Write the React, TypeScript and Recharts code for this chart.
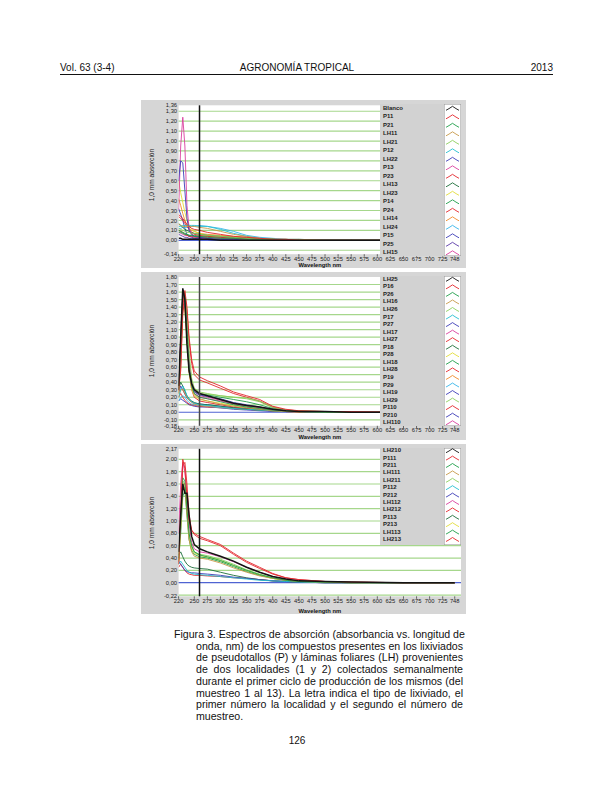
import React from 'react'
import { LineChart, Line, XAxis, YAxis, CartesianGrid, ReferenceLine, Legend } from 'recharts'

// sampled wavelengths (nm) shared by every spectrum
const WAVELENGTHS = [220, 224, 228, 232, 236, 240, 245, 250, 260, 275, 300, 325, 350, 375, 400, 425, 450, 500, 550, 650, 748]
const X_TICKS = [220, 250, 275, 300, 325, 350, 375, 400, 425, 450, 475, 500, 525, 550, 575, 600, 625, 650, 675, 700, 725, 748]
const MARKER_NM = 260

// panel 1: Blanco + muestreos 1..5
const P1_NAMES = ['Blanco', 'P11', 'P21', 'LH11', 'LH21', 'P12', 'LH22', 'P13', 'P23', 'LH13', 'LH23', 'P14', 'P24', 'LH14', 'LH24', 'P15', 'P25', 'LH15']
const P1_VALUES = [
  [0.02, 0.02, 0.01, 0.01, 0.01, 0.01, 0.01, 0.01, 0.01, 0.01, 0, 0, 0, 0, 0, 0, 0, 0, 0, 0, 0],
  [0.26, 0.24, 0.22, 0.19, 0.16, 0.14, 0.12, 0.11, 0.1, 0.08, 0.06, 0.04, 0.03, 0.02, 0.01, 0.01, 0, 0, 0, 0, 0],
  [0.1, 0.09, 0.08, 0.07, 0.06, 0.05, 0.05, 0.04, 0.04, 0.03, 0.02, 0.02, 0.01, 0.01, 0.01, 0, 0, 0, 0, 0, 0],
  [0.16, 0.15, 0.14, 0.14, 0.14, 0.14, 0.14, 0.14, 0.13, 0.12, 0.09, 0.06, 0.04, 0.02, 0.01, 0.01, 0.01, 0, 0, 0, 0],
  [0.12, 0.11, 0.1, 0.09, 0.08, 0.08, 0.07, 0.07, 0.06, 0.05, 0.04, 0.03, 0.02, 0.01, 0.01, 0, 0, 0, 0, 0, 0],
  [0.14, 0.14, 0.15, 0.15, 0.15, 0.15, 0.15, 0.15, 0.14, 0.14, 0.11, 0.07, 0.04, 0.02, 0.01, 0.01, 0, 0, 0, 0, 0],
  [0.6, 0.8, 0.78, 0.5, 0.22, 0.1, 0.06, 0.04, 0.03, 0.02, 0.01, 0.01, 0, 0, 0, 0, 0, 0, 0, 0, 0],
  [0.3, 0.95, 1.24, 0.95, 0.35, 0.12, 0.06, 0.04, 0.03, 0.02, 0.02, 0.01, 0.01, 0, 0, 0, 0, 0, 0, 0, 0],
  [0.24, 0.22, 0.2, 0.17, 0.14, 0.11, 0.08, 0.06, 0.05, 0.04, 0.03, 0.02, 0.01, 0.01, 0, 0, 0, 0, 0, 0, 0],
  [0.17, 0.15, 0.13, 0.11, 0.1, 0.09, 0.08, 0.07, 0.06, 0.05, 0.04, 0.03, 0.02, 0.01, 0.01, 0, 0, 0, 0, 0, 0],
  [0.6, 0.48, 0.38, 0.28, 0.2, 0.15, 0.11, 0.09, 0.07, 0.05, 0.04, 0.03, 0.02, 0.01, 0.01, 0, 0, 0, 0, 0, 0],
  [0.08, 0.08, 0.07, 0.06, 0.06, 0.05, 0.05, 0.05, 0.04, 0.04, 0.03, 0.02, 0.02, 0.01, 0.01, 0, 0, 0, 0, 0, 0],
  [0.1, 0.09, 0.08, 0.06, 0.05, 0.04, 0.04, 0.03, 0.03, 0.02, 0.02, 0.01, 0.01, 0, 0, 0, 0, 0, 0, 0, 0],
  [0.42, 0.35, 0.27, 0.2, 0.15, 0.12, 0.1, 0.09, 0.07, 0.06, 0.05, 0.04, 0.03, 0.02, 0.01, 0.01, 0, 0, 0, 0, 0],
  [0.12, 0.12, 0.13, 0.13, 0.13, 0.13, 0.14, 0.14, 0.15, 0.14, 0.12, 0.09, 0.05, 0.03, 0.02, 0.01, 0.01, 0, 0, 0, 0],
  [0.32, 0.26, 0.2, 0.12, 0.06, 0.04, 0.03, 0.02, 0.02, 0.01, 0.01, 0.01, 0, 0, 0, 0, 0, 0, 0, 0, 0],
  [0.06, 0.05, 0.04, 0.03, 0.03, 0.02, 0.02, 0.02, 0.01, 0.01, 0.01, 0, 0, 0, 0, 0, 0, 0, 0, 0, 0],
  [0.08, 0.07, 0.06, 0.05, 0.05, 0.04, 0.04, 0.04, 0.03, 0.03, 0.02, 0.02, 0.01, 0.01, 0, 0, 0, 0, 0, 0, 0],
]
const P1_Y_TICKS = [1.36, 1.3, 1.2, 1.1, 1.0, 0.9, 0.8, 0.7, 0.6, 0.5, 0.4, 0.3, 0.2, 0.1, 0, -0.14]
const P1_GRID = [1.3, 1.2, 1.1, 1.0, 0.9, 0.8, 0.7, 0.6, 0.5, 0.4, 0.3, 0.2, 0.1, -0.1]

// panel 2
const P2_NAMES = ['LH25', 'P16', 'P26', 'LH16', 'LH26', 'P17', 'P27', 'LH17', 'LH27', 'P18', 'P28', 'LH18', 'LH28', 'P19', 'P29', 'LH19', 'LH29', 'P110', 'P210', 'LH110']
const P2_VALUES = [
  [0.35, 1.0, 1.65, 1.5, 0.9, 0.55, 0.38, 0.3, 0.25, 0.22, 0.17, 0.12, 0.09, 0.07, 0.04, 0.02, 0.01, 0.01, 0, 0, 0],
  [0.3, 0.6, 1.4, 1.62, 1.4, 1.0, 0.7, 0.55, 0.47, 0.42, 0.35, 0.27, 0.22, 0.17, 0.08, 0.04, 0.02, 0.01, 0.01, 0, 0],
  [0.3, 0.8, 1.6, 1.55, 1.1, 0.6, 0.35, 0.25, 0.2, 0.18, 0.14, 0.1, 0.07, 0.05, 0.03, 0.02, 0.01, 0, 0, 0, 0],
  [0.25, 0.7, 1.5, 1.45, 1.0, 0.55, 0.33, 0.24, 0.18, 0.15, 0.11, 0.08, 0.06, 0.04, 0.02, 0.01, 0.01, 0, 0, 0, 0],
  [0.3, 0.9, 1.55, 1.6, 1.3, 0.8, 0.45, 0.32, 0.27, 0.25, 0.22, 0.2, 0.19, 0.15, 0.07, 0.03, 0.02, 0.01, 0, 0, 0],
  [0.2, 0.3, 0.35, 0.3, 0.22, 0.17, 0.14, 0.12, 0.1, 0.09, 0.07, 0.05, 0.04, 0.03, 0.02, 0.01, 0.01, 0, 0, 0, 0],
  [0.3, 0.9, 1.5, 1.45, 1.1, 0.6, 0.35, 0.27, 0.23, 0.21, 0.18, 0.13, 0.1, 0.07, 0.04, 0.02, 0.01, 0, 0, 0, 0],
  [0.3, 1.0, 1.6, 1.5, 1.2, 0.7, 0.4, 0.28, 0.22, 0.2, 0.16, 0.12, 0.09, 0.06, 0.03, 0.02, 0.01, 0, 0, 0, 0],
  [0.3, 0.55, 1.3, 1.55, 1.35, 0.95, 0.65, 0.5, 0.43, 0.39, 0.32, 0.25, 0.2, 0.15, 0.07, 0.03, 0.02, 0.01, 0, 0, 0],
  [0.3, 0.4, 0.35, 0.28, 0.22, 0.18, 0.15, 0.13, 0.11, 0.1, 0.08, 0.06, 0.04, 0.03, 0.02, 0.01, 0.01, 0, 0, 0, 0],
  [0.25, 0.8, 1.4, 1.35, 1.0, 0.55, 0.3, 0.22, 0.17, 0.15, 0.12, 0.09, 0.07, 0.05, 0.03, 0.02, 0.01, 0, 0, 0, 0],
  [0.3, 0.9, 1.55, 1.5, 1.15, 0.65, 0.38, 0.28, 0.24, 0.23, 0.2, 0.17, 0.14, 0.1, 0.05, 0.02, 0.01, 0, 0, 0, 0],
  [0.28, 0.75, 1.45, 1.4, 1.0, 0.55, 0.3, 0.2, 0.15, 0.13, 0.1, 0.07, 0.05, 0.04, 0.02, 0.01, 0.01, 0, 0, 0, 0],
  [0.2, 0.3, 0.3, 0.25, 0.2, 0.16, 0.13, 0.11, 0.09, 0.08, 0.07, 0.05, 0.04, 0.03, 0.02, 0.01, 0, 0, 0, 0, 0],
  [0.15, 0.2, 0.22, 0.2, 0.16, 0.13, 0.11, 0.1, 0.09, 0.08, 0.06, 0.05, 0.04, 0.03, 0.02, 0.01, 0, 0, 0, 0, 0],
  [0.25, 0.35, 0.3, 0.24, 0.19, 0.16, 0.14, 0.12, 0.11, 0.1, 0.08, 0.06, 0.05, 0.03, 0.02, 0.01, 0.01, 0, 0, 0, 0],
  [0.3, 0.85, 1.5, 1.5, 1.2, 0.7, 0.4, 0.3, 0.25, 0.24, 0.22, 0.2, 0.18, 0.14, 0.06, 0.03, 0.01, 0, 0, 0, 0],
  [0.2, 0.25, 0.2, 0.16, 0.13, 0.11, 0.1, 0.09, 0.08, 0.07, 0.06, 0.05, 0.04, 0.03, 0.02, 0.01, 0, 0, 0, 0, 0],
  [0.15, 0.18, 0.16, 0.14, 0.12, 0.1, 0.09, 0.08, 0.07, 0.07, 0.06, 0.04, 0.03, 0.02, 0.01, 0.01, 0, 0, 0, 0, 0],
  [0.3, 0.95, 1.55, 1.45, 1.05, 0.6, 0.35, 0.25, 0.2, 0.18, 0.15, 0.11, 0.08, 0.06, 0.03, 0.02, 0.01, 0, 0, 0, 0],
]
const P2_Y_TICKS = [1.8, 1.7, 1.6, 1.5, 1.4, 1.3, 1.2, 1.1, 1.0, 0.9, 0.8, 0.7, 0.6, 0.5, 0.4, 0.3, 0.2, 0.1, 0, -0.1, -0.18]
const P2_GRID = [1.7, 1.6, 1.5, 1.4, 1.3, 1.2, 1.1, 1.0, 0.9, 0.8, 0.7, 0.6, 0.5, 0.4, 0.3, 0.2, 0.1, -0.1]

// panel 3
const P3_NAMES = ['LH210', 'P111', 'P211', 'LH111', 'LH211', 'P112', 'P212', 'LH112', 'LH212', 'P113', 'P213', 'LH113', 'LH213']
const P3_VALUES = [
  [0.5, 1.1, 1.6, 1.45, 1.45, 1.1, 0.75, 0.62, 0.55, 0.5, 0.43, 0.35, 0.25, 0.17, 0.1, 0.06, 0.03, 0.02, 0.01, 0, 0],
  [0.3, 1.2, 2.0, 1.85, 1.4, 1.0, 0.85, 0.8, 0.75, 0.7, 0.62, 0.48, 0.35, 0.25, 0.15, 0.08, 0.05, 0.02, 0.01, 0, 0],
  [0.4, 1.0, 1.7, 1.65, 1.2, 0.8, 0.6, 0.5, 0.45, 0.42, 0.36, 0.28, 0.2, 0.13, 0.08, 0.04, 0.02, 0.01, 0, 0, 0],
  [0.35, 0.9, 1.6, 1.6, 1.1, 0.7, 0.5, 0.43, 0.4, 0.38, 0.32, 0.24, 0.17, 0.11, 0.07, 0.04, 0.02, 0.01, 0, 0, 0],
  [0.35, 0.95, 1.65, 1.6, 1.2, 0.8, 0.58, 0.5, 0.46, 0.44, 0.38, 0.3, 0.21, 0.14, 0.08, 0.04, 0.02, 0.01, 0, 0, 0],
  [0.3, 0.35, 0.3, 0.25, 0.2, 0.17, 0.15, 0.14, 0.13, 0.12, 0.1, 0.08, 0.06, 0.04, 0.03, 0.02, 0.01, 0, 0, 0, 0],
  [0.35, 0.3, 0.25, 0.2, 0.18, 0.17, 0.16, 0.16, 0.15, 0.14, 0.12, 0.09, 0.07, 0.05, 0.03, 0.02, 0.01, 0, 0, 0, 0],
  [0.8, 1.6, 1.95, 1.8, 1.4, 0.95, 0.65, 0.55, 0.5, 0.48, 0.42, 0.34, 0.25, 0.17, 0.1, 0.06, 0.03, 0.01, 0, 0, 0],
  [0.3, 1.0, 1.9, 1.95, 1.6, 1.1, 0.85, 0.78, 0.72, 0.68, 0.6, 0.46, 0.33, 0.23, 0.14, 0.08, 0.05, 0.02, 0.01, 0, 0],
  [0.45, 0.5, 0.42, 0.35, 0.3, 0.27, 0.25, 0.24, 0.23, 0.22, 0.17, 0.12, 0.08, 0.05, 0.03, 0.02, 0.01, 0, 0, 0, 0],
  [0.3, 0.9, 1.5, 1.55, 1.15, 0.75, 0.55, 0.48, 0.44, 0.42, 0.36, 0.28, 0.2, 0.13, 0.07, 0.04, 0.02, 0.01, 0, 0, 0],
  [0.35, 0.8, 1.4, 1.5, 1.1, 0.7, 0.52, 0.46, 0.42, 0.4, 0.34, 0.26, 0.18, 0.12, 0.07, 0.04, 0.02, 0.01, 0, 0, 0],
  [0.25, 0.3, 0.25, 0.2, 0.16, 0.14, 0.13, 0.12, 0.12, 0.11, 0.1, 0.08, 0.07, 0.05, 0.03, 0.02, 0.01, 0, 0, 0, 0],
]
const P3_Y_TICKS = [2.17, 2.0, 1.8, 1.6, 1.4, 1.2, 1.0, 0.8, 0.6, 0.4, 0.2, 0, -0.22]
const P3_GRID = [2.0, 1.8, 1.6, 1.4, 1.2, 1.0, 0.8, 0.6, 0.4, 0.2, -0.2]

const CAPTION_FIRST = 'Figura 3. Espectros de absorción (absorbancia vs. longitud de'
const CAPTION_LINES = [
  'onda, nm) de los compuestos presentes en los lixiviados',
  'de pseudotallos (P) y láminas foliares (LH) provenientes',
  'de dos localidades (1 y 2) colectados semanalmente',
  'durante el primer ciclo de producción de los mismos (del',
  'muestreo 1 al 13). La letra indica el tipo de lixiviado, el',
  'primer número la localidad y el segundo el número de',
  'muestreo.',
]

// colours (the software cycles the same palette)
const BLACK = '#141414'
const RED = '#e3262d'
const GREEN = '#1f9e4a'
const TAN = '#c79a4a'
const LGREEN = '#8ccf5e'
const CYAN = '#25bfd0'
const BLUE = '#3d3db8'
const MAGENTA = '#d93f9e'
const DGREEN = '#1d6e3a'
const YELLOW = '#e2dc3a'
const ORANGE = '#ef8a2a'
const SKY = '#35b6ea'
const PURPLE = '#5a3aa8'
const P1_COLORS = [BLACK, RED, GREEN, TAN, LGREEN, CYAN, BLUE, MAGENTA, RED, DGREEN, YELLOW, GREEN, RED, ORANGE, SKY, BLUE, PURPLE, MAGENTA]
const P2_COLORS = [BLACK, RED, GREEN, TAN, LGREEN, CYAN, BLUE, MAGENTA, RED, DGREEN, YELLOW, GREEN, RED, ORANGE, SKY, BLUE, LGREEN, RED, BLUE, MAGENTA]
const P3_COLORS = P2_COLORS.slice(0, 13)

const FONT = '"Liberation Sans", Arial, sans-serif'
const PANEL_BG = '#d6d6d6'
const LEGEND_BG = '#d2d2d2'
const GRID_COLOR = '#a6d78c'
const ZERO_COLOR = '#4f63d2'
const TEXT = '#222'

const PANEL_LEFT = 141
const PANEL_WIDTH = 325
const PLOT_LEFT = 178.6
const PLOT_RIGHT = 461
const LEGEND_LEFT = 380
const LEGEND_WIDTH = 81

const fmt = (v: number) => v.toFixed(2).replace('.', ',')

function SpectraLegend({ names, colors, height, firstRow, step }: any) {
  return (
    <div style={{ position: 'relative', width: LEGEND_WIDTH, height, background: LEGEND_BG, fontFamily: FONT }}>
      {names.map((n: string, k: number) => (
        <div
          key={n}
          style={{
            position: 'absolute', left: 3, top: firstRow + k * step - 3.5, fontSize: 6,
            fontWeight: 700, lineHeight: '7px', color: TEXT, whiteSpace: 'nowrap',
          }}
        >
          {n}
        </div>
      ))}
      <svg style={{ position: 'absolute', left: 63.5, top: 0 }} width={17} height={height}>
        <rect x={0.25} y={0.25} width={16.5} height={height - 0.5} fill="#fff" stroke="#9a9a9a" strokeWidth={0.5} />
        {colors.map((c: string, k: number) => {
          const cy = firstRow + k * step
          return (
            <polyline
              key={k}
              points={`2,${cy + 2} 5,${cy + 0.3} 8.5,${cy - 2} 12,${cy + 0.3} 15,${cy + 2}`}
              fill="none"
              stroke={c}
              strokeWidth={0.9}
            />
          )
        })}
      </svg>
    </div>
  )
}

function SpectraPanel(props: any) {
  const { top, height, plotTop, plotBottom, names, values, colors, yDomain, yTicks, grid, legendTop, legendHeight, firstRow, step, markerColor, labelY } = props
  const data = WAVELENGTHS.map((nm, i) => {
    const row: any = { nm }
    names.forEach((n: string, k: number) => { row[n] = values[k][i] })
    return row
  })
  const order = names.map((_: string, k: number) => k).reverse()

  return (
    <div style={{ position: 'absolute', left: PANEL_LEFT, top, width: PANEL_WIDTH, height, background: PANEL_BG }}>
      <LineChart
        width={PANEL_WIDTH}
        height={height}
        data={data}
        margin={{ top: plotTop - top, right: PANEL_LEFT + PANEL_WIDTH - PLOT_RIGHT, bottom: 0, left: 0 }}
      >
        <CartesianGrid horizontal vertical={false} horizontalValues={grid} stroke={GRID_COLOR} strokeWidth={1.2} fill="#fff" fillOpacity={1} />
        <XAxis
          dataKey="nm"
          type="number"
          domain={[220, 760]}
          ticks={X_TICKS}
          interval={0}
          allowDataOverflow
          height={top + height - plotBottom}
          tickSize={2.5}
          tickMargin={0}
          axisLine={false}
          tickLine={{ stroke: '#333', strokeWidth: 0.7 }}
          tick={{ fontSize: 5.8, fill: TEXT, fontFamily: FONT }}
          label={{ value: 'Wavelength nm', position: 'insideBottom', offset: 1.5, fontSize: 5.8, fontWeight: 700, fill: '#111', fontFamily: FONT }}
        />
        <YAxis
          type="number"
          domain={yDomain}
          ticks={yTicks}
          interval={0}
          allowDataOverflow
          width={PLOT_LEFT - PANEL_LEFT}
          tickSize={0}
          tickMargin={1.5}
          axisLine={false}
          tickLine={false}
          tickFormatter={fmt}
          tick={{ fontSize: 5.8, fill: TEXT, fontFamily: FONT }}
        />
        <ReferenceLine y={0} stroke={ZERO_COLOR} strokeWidth={1.2} />
        {order.map((k: number) => (
          <Line
            key={names[k]}
            dataKey={names[k]}
            type="linear"
            stroke={colors[k]}
            strokeWidth={k === 0 ? 1.5 : 0.9}
            dot={false}
            isAnimationActive={false}
          />
        ))}
        <ReferenceLine x={MARKER_NM} stroke={markerColor} strokeWidth={1.5} />
        <Legend
          layout="vertical"
          align="center"
          verticalAlign="middle"
          wrapperStyle={{ left: LEGEND_LEFT - PANEL_LEFT, top: legendTop - top, width: LEGEND_WIDTH, height: legendHeight }}
          content={() => (
            <SpectraLegend names={names} colors={colors} height={legendHeight} firstRow={firstRow} step={step} />
          )}
        />
      </LineChart>
      <div
        style={{
          position: 'absolute', left: 152 - PANEL_LEFT - 40, top: labelY - top - 4, width: 80, height: 8,
          lineHeight: '8px', textAlign: 'center', fontSize: 6.6, color: TEXT, fontFamily: FONT,
          transform: 'rotate(-90deg)', whiteSpace: 'nowrap',
        }}
      >
        1,0 mm absorción
      </div>
    </div>
  )
}

export default function App() {
  return (
    <div style={{ position: 'absolute', left: 0, top: 0, width: 612, height: 792, background: '#fff', overflow: 'hidden', fontFamily: FONT, color: '#111' }}>
      <div style={{ position: 'absolute', left: 60, top: 62, fontSize: 10, lineHeight: '11px' }}>Vol. 63 (3-4)</div>
      <div style={{ position: 'absolute', left: 197, top: 62, width: 200, textAlign: 'center', fontSize: 10, lineHeight: '11px' }}>AGRONOMÍA TROPICAL</div>
      <div style={{ position: 'absolute', right: 59, top: 62, fontSize: 10, lineHeight: '11px' }}>2013</div>
      <div style={{ position: 'absolute', left: 60, top: 74, width: 493, height: 0.8, background: '#111' }} />

      <SpectraPanel
        top={100} height={168} plotTop={105.3} plotBottom={254.2}
        names={P1_NAMES} values={P1_VALUES} colors={P1_COLORS}
        yDomain={[-0.14, 1.36]} yTicks={P1_Y_TICKS} grid={P1_GRID}
        legendTop={104} legendHeight={152} firstRow={4.3} step={8.5}
        markerColor="#111" labelY={175}
      />
      <SpectraPanel
        top={272} height={168} plotTop={277} plotBottom={425.8}
        names={P2_NAMES} values={P2_VALUES} colors={P2_COLORS}
        yDomain={[-0.18, 1.8]} yTicks={P2_Y_TICKS} grid={P2_GRID}
        legendTop={276} legendHeight={150} firstRow={3.3} step={7.55}
        markerColor="#4a4a4a" labelY={351}
      />
      <SpectraPanel
        top={444} height={170} plotTop={448.8} plotBottom={596.3}
        names={P3_NAMES} values={P3_VALUES} colors={P3_COLORS}
        yDomain={[-0.22, 2.17]} yTicks={P3_Y_TICKS} grid={P3_GRID}
        legendTop={448} legendHeight={97} firstRow={2.7} step={7.4}
        markerColor="#111" labelY={523}
      />

      <div style={{ position: 'absolute', left: 174, top: 629, width: 289, fontSize: 10.6, lineHeight: '11.7px', color: '#111' }}>
        <div style={{ textAlign: 'justify', textAlignLast: 'justify', whiteSpace: 'nowrap' }}>{CAPTION_FIRST}</div>
        {CAPTION_LINES.map((line, i) => (
          <div
            key={i}
            style={{
              marginLeft: 22, textAlign: 'justify',
              textAlignLast: i === CAPTION_LINES.length - 1 ? 'left' : 'justify', whiteSpace: 'nowrap',
            }}
          >
            {line}
          </div>
        ))}
      </div>
      <div style={{ position: 'absolute', left: 247, top: 735, width: 100, textAlign: 'center', fontSize: 10, lineHeight: '11px' }}>126</div>
    </div>
  )
}
